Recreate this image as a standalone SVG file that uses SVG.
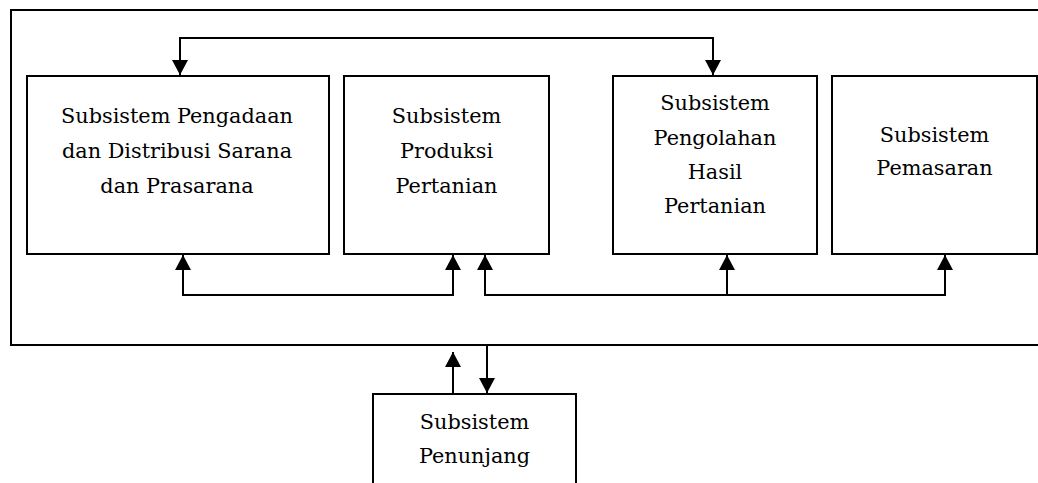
<svg xmlns="http://www.w3.org/2000/svg" width="1038" height="483" viewBox="0 0 1038 483">
<style>
.box{fill:#fff;stroke:#000;stroke-width:2}
.ln{fill:none;stroke:#000;stroke-width:2}
text{font-family:"DejaVu Serif","Liberation Serif",serif;font-size:20.8px;fill:#000;text-anchor:middle}
</style>
<defs>
<marker id="ah" viewBox="0 0 15 16" refX="15" refY="8" markerWidth="15" markerHeight="16" markerUnits="userSpaceOnUse" orient="auto">
<path d="M0,0 L15,8 L0,16 Z" fill="#000"/>
</marker>
</defs>
<g id="frame"><path class="ln" d="M1040,10 H11 V345 H1040"/></g>
<g id="n1"><rect class="box" x="27" y="76" width="302" height="178"/>
<text x="177" y="123">Subsistem Pengadaan</text><text x="177" y="158">dan Distribusi Sarana</text><text x="177" y="193">dan Prasarana</text></g>
<g id="n2"><rect class="box" x="344" y="76" width="205" height="178"/>
<text x="446.5" y="123">Subsistem</text><text x="446.5" y="158">Produksi</text><text x="446.5" y="193">Pertanian</text></g>
<g id="n3"><rect class="box" x="613" y="76" width="204" height="178"/>
<text x="715" y="110">Subsistem</text><text x="715" y="145">Pengolahan</text><text x="715" y="179">Hasil</text><text x="715" y="213">Pertanian</text></g>
<g id="n4"><rect class="box" x="832" y="76" width="205" height="178"/>
<text x="934.5" y="142">Subsistem</text><text x="934.5" y="175">Pemasaran</text></g>
<g id="n5"><rect class="box" x="373" y="394" width="203" height="100"/>
<text x="474.5" y="429">Subsistem</text><text x="474.5" y="463">Penunjang</text></g>
<g id="connectors">
<path class="ln" d="M180,76 V38 H713 V76" />
<path class="ln" d="M180,40 V75" marker-end="url(#ah)"/>
<path class="ln" d="M713,40 V75" marker-end="url(#ah)"/>
<path class="ln" d="M183,255 V295 H453 V255"/>
<path class="ln" d="M183,280 V255" marker-end="url(#ah)"/>
<path class="ln" d="M453,280 V255" marker-end="url(#ah)"/>
<path class="ln" d="M485,255 V295 H945 V255"/>
<path class="ln" d="M485,280 V255" marker-end="url(#ah)"/>
<path class="ln" d="M727,295 V255" marker-end="url(#ah)"/>
<path class="ln" d="M945,280 V255" marker-end="url(#ah)"/>
<path class="ln" d="M453,393 V352" marker-end="url(#ah)"/>
<path class="ln" d="M487,346 V393" marker-end="url(#ah)"/>
</g>
</svg>
